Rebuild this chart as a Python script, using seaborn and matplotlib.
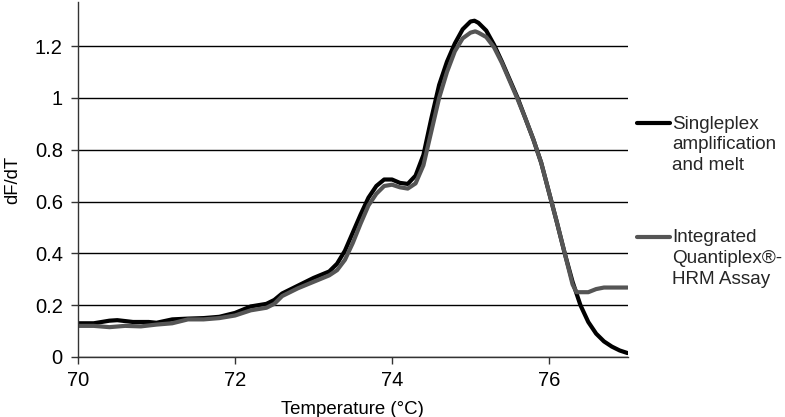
import matplotlib
matplotlib.use("Agg")
import matplotlib.pyplot as plt
from matplotlib.legend_handler import HandlerLine2D
import pandas as pd
import seaborn as sns

# singleplex amplification and melt
temp_single = [70.0, 70.2, 70.4, 70.5, 70.7, 70.9, 71.0, 71.2, 71.4, 71.6, 71.8,
               72.0, 72.2, 72.4, 72.5, 72.6, 72.8, 73.0, 73.2, 73.3, 73.4, 73.5,
               73.6, 73.7, 73.8, 73.9, 74.0, 74.1, 74.2, 74.3, 74.4, 74.5, 74.6,
               74.7, 74.8, 74.9, 75.0, 75.05, 75.1, 75.2, 75.3, 75.4, 75.5, 75.6,
               75.7, 75.8, 75.9, 76.0, 76.1, 76.2, 76.3, 76.4, 76.5, 76.6, 76.7,
               76.8, 76.9, 77.0]
dfdt_single = [0.130, 0.130, 0.140, 0.142, 0.135, 0.135, 0.132, 0.145, 0.148, 0.150, 0.155,
               0.170, 0.195, 0.205, 0.220, 0.245, 0.275, 0.305, 0.330, 0.360, 0.410, 0.480,
               0.550, 0.615, 0.660, 0.685, 0.685, 0.672, 0.668, 0.700, 0.780, 0.920, 1.050,
               1.140, 1.210, 1.265, 1.295, 1.298, 1.290, 1.260, 1.205, 1.140, 1.070, 1.000,
               0.920, 0.840, 0.750, 0.635, 0.520, 0.400, 0.290, 0.200, 0.135, 0.090, 0.060,
               0.040, 0.025, 0.015]

# integrated Quantiplex-HRM assay
temp_integ = [70.0, 70.2, 70.4, 70.6, 70.8, 71.0, 71.2, 71.4, 71.6, 71.8, 72.0,
              72.2, 72.4, 72.5, 72.6, 72.8, 73.0, 73.2, 73.3, 73.4, 73.5, 73.6,
              73.7, 73.8, 73.9, 74.0, 74.1, 74.2, 74.3, 74.4, 74.5, 74.6, 74.7,
              74.8, 74.9, 75.0, 75.06, 75.1, 75.2, 75.3, 75.4, 75.5, 75.6, 75.7,
              75.8, 75.9, 76.0, 76.1, 76.2, 76.3, 76.35, 76.5, 76.6, 76.7, 76.8,
              77.0]
dfdt_integ = [0.120, 0.120, 0.115, 0.120, 0.118, 0.125, 0.130, 0.145, 0.145, 0.150, 0.160,
              0.180, 0.190, 0.205, 0.235, 0.265, 0.290, 0.315, 0.335, 0.375, 0.440, 0.515,
              0.585, 0.630, 0.660, 0.665, 0.655, 0.650, 0.670, 0.740, 0.870, 1.000, 1.100,
              1.180, 1.230, 1.252, 1.257, 1.252, 1.235, 1.195, 1.135, 1.065, 0.995, 0.920,
              0.840, 0.750, 0.635, 0.520, 0.400, 0.280, 0.250, 0.250, 0.262, 0.268, 0.268,
              0.268]

labels = ["Singleplex\namplification\nand melt", "Integrated\nQuantiplex®-\nHRM Assay"]
colors = ["#000000", "#555555"]

df = pd.concat([
    pd.DataFrame({"Temperature": temp_single, "dFdT": dfdt_single, "series": labels[0]}),
    pd.DataFrame({"Temperature": temp_integ, "dFdT": dfdt_integ, "series": labels[1]}),
])

LEG_FS = 13.6
LEG_LS = 1.3


class FirstLineHandler(HandlerLine2D):
    # put the legend line next to the first line of a multi-line label
    def create_artists(self, legend, orig_handle, xdescent, ydescent,
                       width, height, fontsize, trans):
        arts = super().create_artists(legend, orig_handle, xdescent, ydescent,
                                      width, height, fontsize, trans)
        for a in arts:
            a.set_ydata([y + 0.875 * LEG_LS * fontsize for y in a.get_ydata()])
        return arts


sns.set_style("white")
plt.rcParams['font.family'] = ['Liberation Sans', 'DejaVu Sans']

fig = plt.figure(figsize=(7.85, 4.17), dpi=100)
ax = fig.add_axes([0.0994, 0.144, 0.7, 0.851])

sns.lineplot(data=df, x="Temperature", y="dFdT", hue="series", palette=colors,
             linewidth=3, sort=False, ax=ax)

ax.set_xlim(70, 77)
ax.set_ylim(0, 1.37)
ax.set_xticks([70, 72, 74, 76])
ax.set_yticks([0, 0.2, 0.4, 0.6, 0.8, 1, 1.2])
ax.set_yticklabels(["0", "0.2", "0.4", "0.6", "0.8", "1", "1.2"])
ax.tick_params(axis="both", labelsize=14.5, length=5, width=1, direction="out",
               bottom=True, left=True, color="#333333", labelcolor="black")
ax.tick_params(axis="y", pad=6)
ax.tick_params(axis="x", pad=5)
ax.yaxis.grid(True, color="black", linewidth=1)
ax.set_axisbelow(True)
for s in ["top", "right"]:
    ax.spines[s].set_visible(False)
for s in ["left", "bottom"]:
    ax.spines[s].set_color("#333333")
    ax.spines[s].set_linewidth(1)

ax.set_xlabel("Temperature (°C)", fontsize=13.4, color="black")
ax.set_ylabel("dF/dT", fontsize=13.3, color="black")
ax.xaxis.set_label_coords(0.5, -0.125)
ax.yaxis.set_label_coords(-0.1027, 0.5)

handles, lbls = ax.get_legend_handles_labels()
ax.get_legend().remove()
leg = fig.legend(handles, lbls, loc="upper left", bbox_to_anchor=(0.8115, 0.723),
                 frameon=False, fontsize=LEG_FS, handlelength=1.75, handletextpad=0.1,
                 labelspacing=2.88, borderpad=0, borderaxespad=0,
                 handler_map={h: FirstLineHandler() for h in handles})
for t in leg.get_texts():
    t.set_linespacing(LEG_LS)

fig.savefig("out.png", dpi=100)
